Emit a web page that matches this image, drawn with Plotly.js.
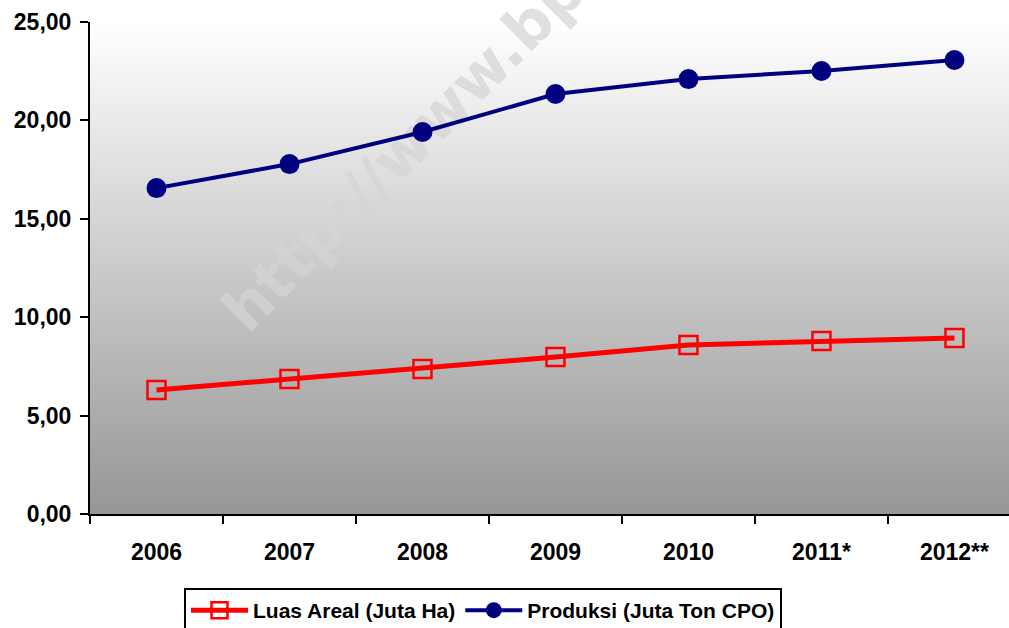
<!DOCTYPE html>
<html>
<head>
<meta charset="utf-8">
<script src="https://cdn.plot.ly/plotly-3.0.1.min.js"></script>
<style>
  html, body { margin: 0; padding: 0; background: #ffffff; overflow: hidden; }
  #chart { width: 1009px; height: 628px; }
</style>
</head>
<body>
<div id="chart"></div>
<script>
// ---- data ----
var years = ["2006", "2007", "2008", "2009", "2010", "2011*", "2012**"];
var luasAreal = [6.30, 6.86, 7.37, 7.98, 8.59, 8.79, 8.94];
var produksi = [16.56, 17.78, 19.41, 21.34, 22.10, 22.51, 23.07];
var seriesNames = ["Luas Areal (Juta Ha)", "Produksi (Juta Ton CPO)"];
var yTicks = [0, 5, 10, 15, 20, 25];
var watermarkText = "http://www.bps.go.id";

var fontFamily = "Liberation Sans, Arial, sans-serif";

var traces = [
  {
    type: "scatter", mode: "lines+markers",
    x: years, y: luasAreal, name: seriesNames[0],
    line: { color: "#ff0000", width: 5 },
    marker: { symbol: "square-open", size: 18, color: "#ff0000", line: { color: "#ff0000", width: 2.5 } },
    cliponaxis: false
  },
  {
    type: "scatter", mode: "lines+markers",
    x: years, y: produksi, name: seriesNames[1],
    line: { color: "#000080", width: 4 },
    marker: { symbol: "circle", size: 20, color: "#000080" },
    cliponaxis: false
  }
];

var gradSvg = "<svg xmlns='http://www.w3.org/2000/svg' width='100' height='100' viewBox='0 0 100 100' preserveAspectRatio='none'>" +
  "<defs><linearGradient id='g' x1='0' y1='0' x2='0' y2='1'>" +
  "<stop offset='0' stop-color='#ffffff'/><stop offset='1' stop-color='#969696'/>" +
  "</linearGradient></defs><rect x='0' y='0' width='100' height='100' fill='url(#g)'/></svg>";

var layout = {
  width: 1009, height: 628,
  margin: { l: 90, r: 0, t: 22, b: 114 },
  paper_bgcolor: "#ffffff",
  plot_bgcolor: "rgba(0,0,0,0)",
  separators: ",.",
  showlegend: true,
  font: { family: fontFamily, size: 23, color: "#000000", weight: "bold" },
  xaxis: {
    type: "category",
    range: [-0.5, 6.41],
    showline: true, linecolor: "#000000", linewidth: 2,
    ticks: "outside", ticklen: 8, tickwidth: 2, tickcolor: "#000000",
    tickson: "boundaries",
    showgrid: false, zeroline: false,
    ticklabelstandoff: 16,
    tickfont: { family: fontFamily, size: 23, color: "#000000", weight: "bold" }
  },
  yaxis: {
    range: [0, 25],
    tickvals: yTicks,
    tickformat: ".2f",
    showline: true, linecolor: "#000000", linewidth: 2,
    ticks: "outside", ticklen: 8, tickwidth: 2, tickcolor: "#000000",
    showgrid: false, zeroline: false,
    ticklabelstandoff: 4,
    tickfont: { family: fontFamily, size: 23, color: "#000000", weight: "bold" }
  },
  legend: {
    orientation: "h",
    xref: "container", yref: "container",
    x: 184 / 1009, xanchor: "left",
    y: 1 - 588 / 628, yanchor: "top",
    bgcolor: "#ffffff",
    bordercolor: "#000000", borderwidth: 2,
    font: { family: fontFamily, size: 21, color: "#000000", weight: "bold" },
    itemwidth: 57,
    tracegroupgap: 0
  },
  images: [{
    source: "data:image/svg+xml;charset=utf-8," + encodeURIComponent(gradSvg),
    xref: "paper", yref: "paper",
    x: 0, y: 1, sizex: 1, sizey: 1,
    xanchor: "left", yanchor: "top",
    sizing: "stretch", layer: "below"
  }],
  shapes: [{
    type: "line", xref: "paper", yref: "paper",
    x0: 0.1795, y0: 0.3496, x1: 0.7236, y1: 1.3659,
    line: { width: 0, color: "rgba(0,0,0,0)" },
    layer: "below",
    label: {
      text: watermarkText,
      textposition: "start",
      textangle: "auto",
      yanchor: "bottom",
      padding: 0,
      font: { family: "DejaVu Sans, Verdana, sans-serif", size: 60, color: "rgba(212,212,212,0.72)", weight: "bold" }
    }
  }]
};

Plotly.newPlot("chart", traces, layout, { displayModeBar: false, staticPlot: true });
</script>
</body>
</html>
